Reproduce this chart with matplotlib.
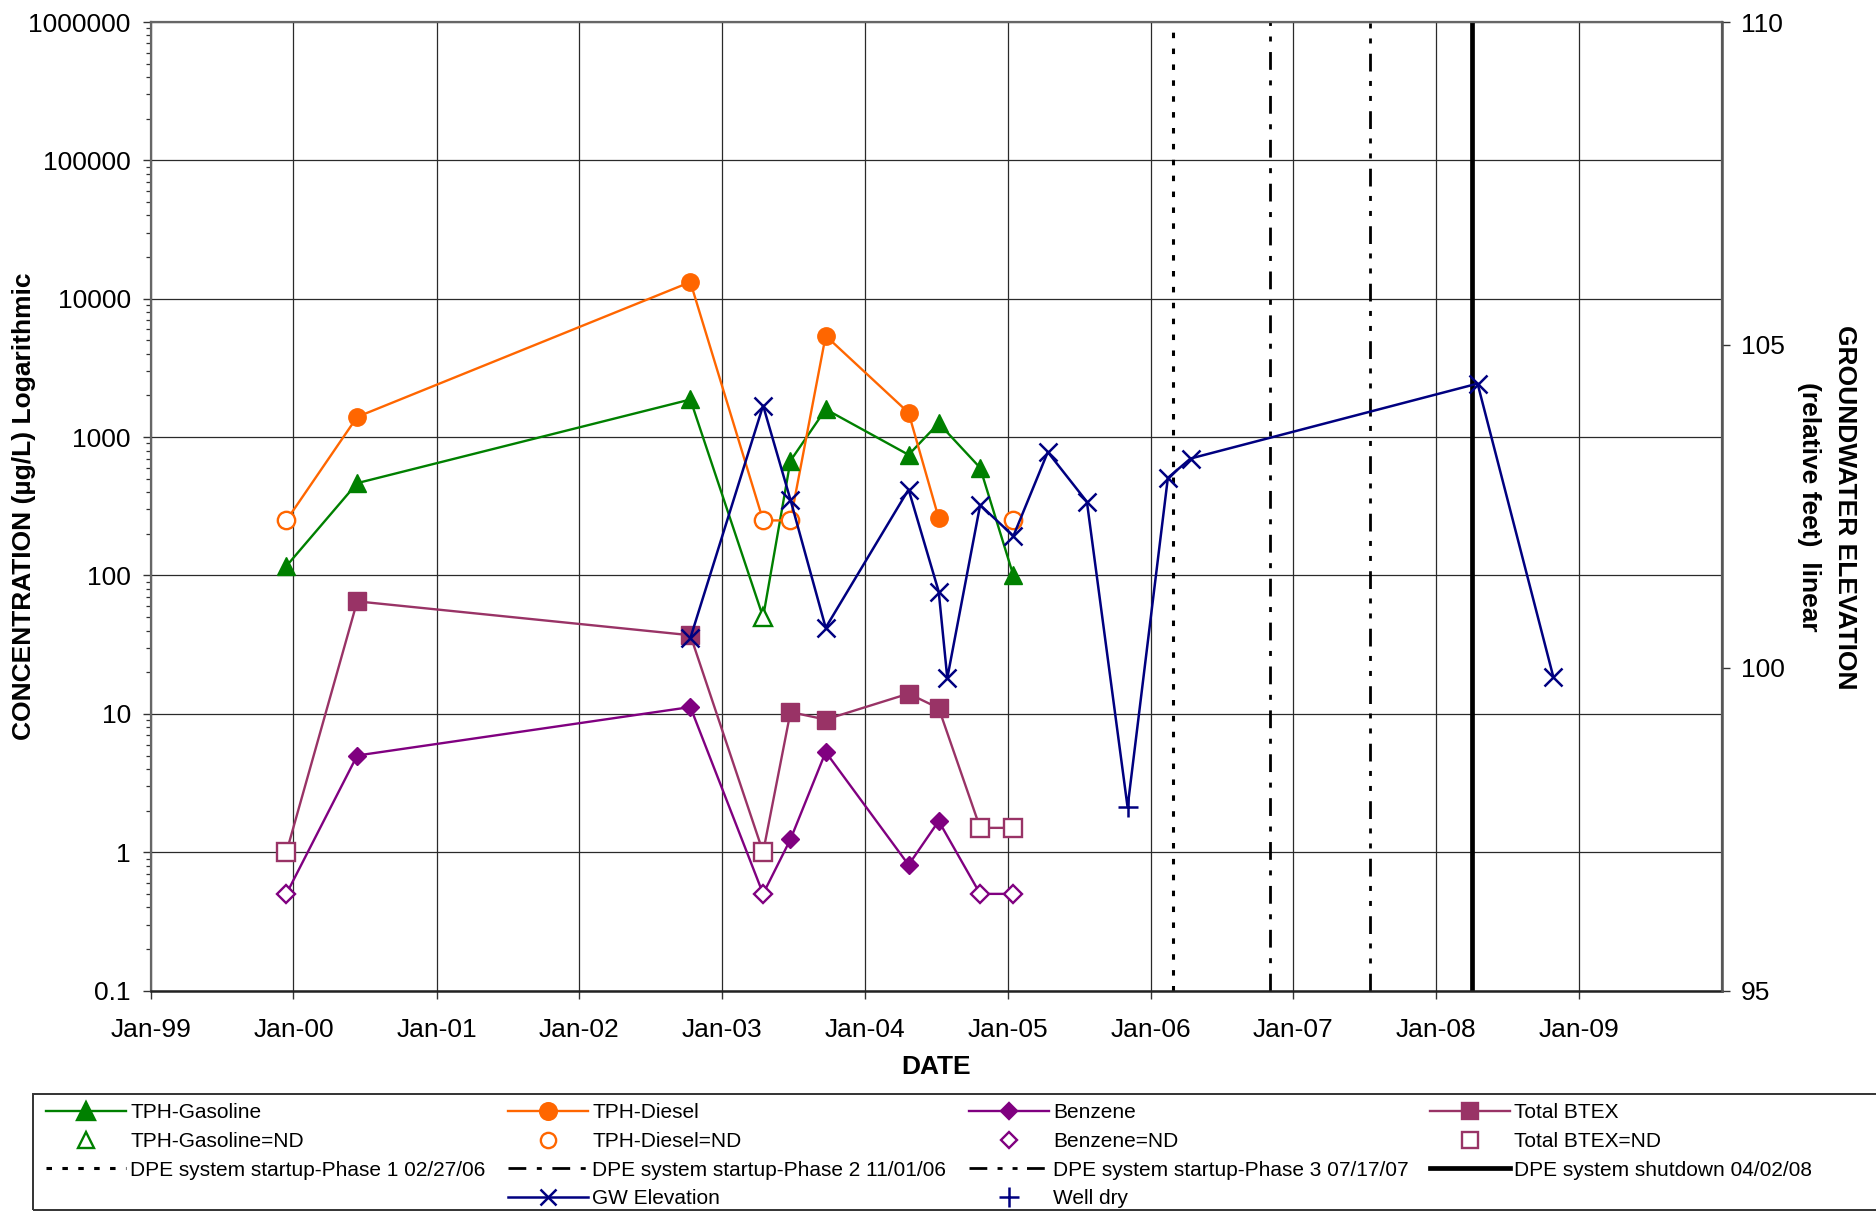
import numpy as np
import pandas as pd
import matplotlib
matplotlib.use("Agg")
import matplotlib.pyplot as plt
import matplotlib.dates as mdates
from matplotlib.lines import Line2D
from matplotlib.patches import Rectangle
from matplotlib.ticker import FixedLocator, FuncFormatter, LogLocator, NullFormatter

plt.rcParams['font.family'] = ['Liberation Sans', 'DejaVu Sans']

# ---- laboratory results (µg/L); ND = not detected, plotted at the reporting limit
sample_dates = ['1999-12-14', '2000-06-12', '2002-10-12', '2003-04-16', '2003-06-25',
                '2003-09-23', '2004-04-22', '2004-07-08', '2004-10-22', '2005-01-15']
tph_gasoline = [117, 465, 1870, 50, 675, 1590, 745, 1260, 600, 100]
tph_gasoline_nd = [0, 0, 0, 1, 0, 0, 0, 0, 0, 0]
tph_diesel = [250, 1400, 13200, 250, 250, 5400, 1500, 260, np.nan, 250]
tph_diesel_nd = [1, 0, 0, 1, 1, 0, 0, 0, 0, 1]
benzene = [0.5, 5.0, 11.2, 0.5, 1.24, 5.3, 0.81, 1.68, 0.5, 0.5]
benzene_nd = [1, 0, 0, 1, 0, 0, 0, 0, 1, 1]
total_btex = [1.0, 65, 37, 1.0, 10.3, 9.1, 14.0, 11.0, 1.5, 1.5]
total_btex_nd = [1, 0, 0, 1, 0, 0, 0, 0, 1, 1]

# ---- groundwater elevation (relative feet)
gw_dates = ['2002-10-12', '2003-04-16', '2003-06-25', '2003-09-23', '2004-04-22',
            '2004-07-08', '2004-07-30', '2004-10-22', '2005-01-15', '2005-04-13',
            '2005-07-22', '2005-11-03', '2006-02-14', '2006-04-13', '2008-04-16',
            '2008-10-27']
gw_elevation = [100.46, 104.06, 102.60, 100.62, 102.76, 101.18, 99.84, 102.52,
                102.04, 103.34, 102.57, 97.84, 102.94, 103.24, 104.40, 99.85]
gw_well_dry = [0, 0, 0, 0, 0, 0, 0, 0, 0, 0, 0, 1, 0, 0, 0, 0]

# ---- remediation system events
event_dates = ['2006-02-27', '2006-11-01', '2007-07-17', '2008-04-02']
event_labels = ['DPE system startup-Phase 1 02/27/06',
                'DPE system startup-Phase 2 11/01/06',
                'DPE system startup-Phase 3 07/17/07',
                'DPE system shutdown 04/02/08']

year_ticks = list(range(1999, 2010))
conc_ticks = [0.1, 1, 10, 100, 1000, 10000, 100000, 1000000]
elev_ticks = [95, 100, 105, 110]

# ---- styling
GREEN = '#008000'
ORANGE = '#FF6600'
PURPLE = '#800080'
MAROON = '#993366'
NAVY = '#000080'
LW = 1.7
event_styles = [
    dict(lw=2.2, dashes=(1.8, 3.4)),
    dict(lw=2.0, dashes=(6.4, 3.8, 1.8, 3.8)),
    dict(lw=2.0, dashes=(6.4, 3.7, 1.8, 3.6, 1.8, 3.4)),
    dict(lw=3.4, ls='-'),
]

W, H = 1876, 1212
fig = plt.figure(figsize=(W / 100, H / 100), dpi=100)
L, R, T, B = 150.7, 1722, 22, 990.6
ax = fig.add_axes([L / W, 1 - B / H, (R - L) / W, (B - T) / H])

d_samples = pd.to_datetime(sample_dates)
d_gw = pd.to_datetime(gw_dates)


def draw_series(values, nd_flags, color, marker, ms, mew=1.7):
    v = np.array(values, dtype=float)
    nd = np.array(nd_flags, dtype=bool)
    det = (~nd) & ~np.isnan(v)
    ax.plot(d_samples, v, color=color, lw=LW, zorder=3)
    ax.plot(d_samples[det], v[det], ls='none', marker=marker, ms=ms,
            mfc=color, mec=color, zorder=4)
    ax.plot(d_samples[nd], v[nd], ls='none', marker=marker, ms=ms,
            mfc='white', mec=color, mew=mew, zorder=4)


draw_series(tph_gasoline, tph_gasoline_nd, GREEN, '^', 13)
draw_series(tph_diesel, tph_diesel_nd, ORANGE, 'o', 12.5)
draw_series(total_btex, total_btex_nd, MAROON, 's', 12.5)
draw_series(benzene, benzene_nd, PURPLE, 'D', 9)

for d, st in zip(event_dates, event_styles):
    ax.axvline(pd.Timestamp(d), color='black', zorder=2, solid_capstyle='butt',
               dash_capstyle='butt', **st)

ax.set_yscale('log')
ax.set_ylim(0.1, 1e6)
ax.set_xlim(pd.Timestamp('1999-01-01'), pd.Timestamp('2010-01-01'))
ax.yaxis.set_major_locator(FixedLocator(conc_ticks))
ax.yaxis.set_major_formatter(FuncFormatter(lambda v, p: ('%g' % v) if v < 1 else '%d' % round(v)))
ax.yaxis.set_minor_locator(LogLocator(base=10, subs=np.arange(2, 10), numticks=20))
ax.yaxis.set_minor_formatter(NullFormatter())
ax.xaxis.set_major_locator(FixedLocator([mdates.date2num(pd.Timestamp(f'{y}-01-01')) for y in year_ticks]))
ax.xaxis.set_major_formatter(mdates.DateFormatter('%b-%y'))

ax.grid(True, which='major', color='#2a2a2a', lw=0.9)
ax.set_axisbelow(True)
ax.tick_params(axis='both', which='major', direction='out', length=5.8, width=1.0,
               labelsize=19, color='#333333')
ax.tick_params(axis='y', which='major', pad=8.5)
ax.tick_params(axis='x', which='major', pad=14)
ax.tick_params(axis='y', which='minor', direction='out', length=3.6, width=0.9, color='#333333')
for side in ['left', 'top', 'right']:
    ax.spines[side].set_color('#666666')
    ax.spines[side].set_linewidth(1.6)
ax.spines['bottom'].set_color('#222222')
ax.spines['bottom'].set_linewidth(1.8)

# groundwater elevation on the secondary axis
ax2 = ax.twinx()
ax2.set_ylim(95, 110)
ax2.yaxis.set_major_locator(FixedLocator(elev_ticks))
ax2.tick_params(axis='y', direction='out', length=5.8, width=1.0, labelsize=19,
                pad=8, color='#333333')
ax2.spines['right'].set_color('#555555')
ax2.spines['right'].set_linewidth(1.8)
for side in ['left', 'top', 'bottom']:
    ax2.spines[side].set_visible(False)

gw = np.array(gw_elevation)
dry = np.array(gw_well_dry, dtype=bool)
ax2.plot(d_gw, gw, color=NAVY, lw=1.8, zorder=3)
ax2.plot(d_gw[~dry], gw[~dry], ls='none', marker='x', ms=12.5, mec=NAVY, mew=1.8, zorder=4)
ax2.plot(d_gw[dry], gw[dry], ls='none', marker='+', ms=15, mec=NAVY, mew=1.8, zorder=4)
ax2.set_xlim(ax.get_xlim())

# axis titles
fig.text(24 / W, 1 - 506 / H, 'CONCENTRATION (µg/L) Logarithmic', rotation=90,
         ha='center', va='center', fontsize=19, fontweight='bold')
fig.text(936 / W, 1 - 1067 / H, 'DATE', ha='center', va='center', fontsize=19,
         fontweight='bold')
fig.text(1845 / W, 1 - 507 / H, 'GROUNDWATER ELEVATION', rotation=270,
         ha='center', va='center', fontsize=19, fontweight='bold')
fig.text(1809 / W, 1 - 507 / H, '(relative feet)  linear', rotation=270,
         ha='center', va='center', fontsize=19, fontweight='bold')

# legend
def h_line(color, marker, ms, mfc=None):
    return Line2D([], [], color=color, lw=LW, marker=marker, ms=ms,
                  mfc=mfc or color, mec=color, mew=1.7)


def h_marker(color, marker, ms):
    return Line2D([], [], color=color, ls='none', marker=marker, ms=ms,
                  mfc='white', mec=color, mew=1.7)


def h_event(st):
    return Line2D([], [], color='black', dash_capstyle='butt', **st)


columns = [
    [(h_line(GREEN, '^', 12.5), 'TPH-Gasoline'),
     (h_marker(GREEN, '^', 11), 'TPH-Gasoline=ND'),
     (h_event(event_styles[0]), event_labels[0])],
    [(h_line(ORANGE, 'o', 12), 'TPH-Diesel'),
     (h_marker(ORANGE, 'o', 11), 'TPH-Diesel=ND'),
     (h_event(event_styles[1]), event_labels[1]),
     (Line2D([], [], color=NAVY, lw=1.8, marker='x', ms=12, mew=1.8), 'GW Elevation')],
    [(h_line(PURPLE, 'D', 8.5), 'Benzene'),
     (h_marker(PURPLE, 'D', 8), 'Benzene=ND'),
     (h_event(event_styles[2]), event_labels[2]),
     (Line2D([], [], color=NAVY, ls='none', marker='+', ms=15, mew=1.8), 'Well dry')],
    [(h_line(MAROON, 's', 12), 'Total BTEX'),
     (h_marker(MAROON, 's', 11), 'Total BTEX=ND'),
     (h_event(event_styles[3]), event_labels[3])],
]
handle_x = [46, 508, 969, 1430]
for x0, col in zip(handle_x, columns):
    hs, ls = zip(*col)
    fig.legend(hs, ls, loc='upper left', bbox_to_anchor=(x0 / W, 1 - 1103 / H),
               frameon=False, fontsize=15, handlelength=3.85, handletextpad=0.2,
               labelspacing=0.47, borderpad=0, borderaxespad=0, numpoints=1)

fig.patches.append(Rectangle((33 / W, 1 - 1210 / H), (W + 10 - 33) / W, (1210 - 1094) / H,
                             transform=fig.transFigure, fill=False, ec='#333333',
                             lw=1.4, clip_on=False))

fig.savefig('out.png', dpi=100)
